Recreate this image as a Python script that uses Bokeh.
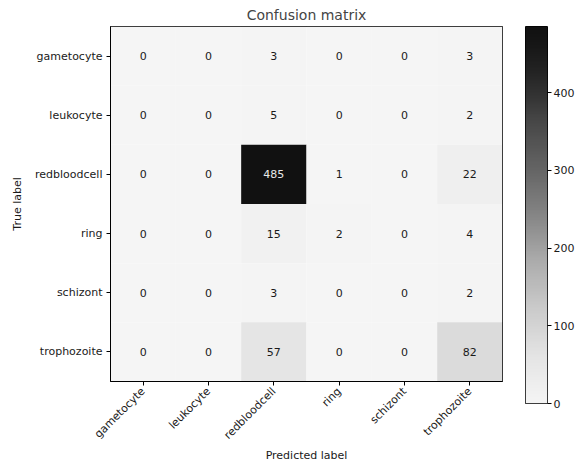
import numpy as np
from bokeh.plotting import figure
from bokeh.models import FactorRange, LinearColorMapper, ColumnDataSource, Range1d, FixedTicker
from bokeh.layouts import row
from bokeh.embed import file_html
from bokeh.resources import INLINE
from bokeh.core.properties import value

# ---- data ----
classes = ["gametocyte", "leukocyte", "redbloodcell", "ring", "schizont", "trophozoite"]
row_gametocyte = [0, 0, 3, 0, 0, 3]
row_leukocyte = [0, 0, 5, 0, 0, 2]
row_redbloodcell = [0, 0, 485, 1, 0, 22]
row_ring = [0, 0, 15, 2, 0, 4]
row_schizont = [0, 0, 3, 0, 0, 2]
row_trophozoite = [0, 0, 57, 0, 0, 82]
matrix = [row_gametocyte, row_leukocyte, row_redbloodcell, row_ring, row_schizont, row_trophozoite]
colorbar_ticks = [0, 100, 200, 300, 400]

FONT = "DejaVu Sans"
TXT = "#1a1a1a"

# ---- palette (Greys-like, slightly compressed tones) ----
anchor_pos = np.linspace(0, 1, 9)
anchor_g = [255, 240, 217, 189, 150, 115, 82, 37, 0]
palette = []
for t in np.linspace(0, 1, 256):
    g = float(np.interp(t, anchor_pos, anchor_g))
    o = int(round(17 + 228 * (g / 255.0) ** 1.27))
    palette.append("#%02x%02x%02x" % (o, o, o))

vmax = max(max(r) for r in matrix)
mapper = LinearColorMapper(palette=palette, low=0, high=vmax)

xs, ys, vals, labels, tcols = [], [], [], [], []
thresh = vmax / 2.0
for i, t in enumerate(classes):
    for j, pcls in enumerate(classes):
        v = matrix[i][j]
        xs.append(pcls)
        ys.append(t)
        vals.append(v)
        labels.append(str(v))
        tcols.append("#e8e8e8" if v > thresh else TXT)
src = ColumnDataSource(dict(x=xs, y=ys, val=vals, label=labels, tc=tcols))

p = figure(
    x_range=FactorRange(factors=classes),
    y_range=FactorRange(factors=list(reversed(classes))),
    frame_width=392, frame_height=355,
    min_border_left=110, min_border_right=10,
    min_border_top=26, min_border_bottom=70,
    toolbar_location=None, output_backend="svg",
    title="Confusion matrix",
)
p.align = "start"
p.rect(x="x", y="y", width=1, height=1, source=src,
       fill_color={"field": "val", "transform": mapper}, line_color=None)
p.text(x="x", y="y", text="label", source=src, text_align="center",
       text_baseline="middle", text_font_size="11px", text_color="tc",
       text_font=value(FONT))

p.title.align = "center"
p.title.text_font = FONT
p.title.text_font_size = "14px"
p.title.text_font_style = "normal"
p.title.standoff = 8
p.outline_line_color = "black"
p.outline_line_width = 1
p.grid.visible = False
for ax in (p.xaxis[0], p.yaxis[0]):
    ax.major_label_text_font = FONT
    ax.major_label_text_font_size = "11px"
    ax.axis_label_text_font = FONT
    ax.axis_label_text_font_size = "11px"
    ax.axis_label_text_font_style = "normal"
    ax.major_tick_out = 4
    ax.major_tick_in = 0
    ax.major_label_standoff = 4
    ax.axis_line_color = "black"
    ax.major_label_text_color = TXT
    ax.axis_label_text_color = TXT
p.xaxis.axis_label = "Predicted label"
p.xaxis.axis_label_standoff = 0
p.xaxis.major_label_orientation = np.pi / 4
p.yaxis.axis_label = "True label"
p.yaxis.axis_label_standoff = 8

# ---- colorbar figure ----
cb = figure(
    x_range=Range1d(0, 1), y_range=Range1d(0, vmax),
    frame_width=22, frame_height=377,
    min_border_left=13, min_border_right=34,
    min_border_top=15, min_border_bottom=50,
    toolbar_location=None, output_backend="svg",
    x_axis_location=None, y_axis_location="right",
)
cb.align = "start"
grad = np.linspace(0, vmax, 256).reshape(256, 1)
cb.image(image=[grad], x=0, y=0, dw=1, dh=vmax, color_mapper=mapper)
cb.grid.visible = False
cb.outline_line_color = "black"
cb.yaxis.ticker = FixedTicker(ticks=colorbar_ticks)
cb.yaxis.major_label_text_font = FONT
cb.yaxis.major_label_text_font_size = "11px"
cb.yaxis.major_tick_out = 4
cb.yaxis.major_tick_in = 0
cb.yaxis.minor_tick_out = 0
cb.yaxis.minor_tick_in = 0
cb.yaxis.major_label_standoff = 2
cb.yaxis.axis_line_color = None
cb.yaxis.major_label_text_color = TXT

layout = row(p, cb)
open("out.html", "w").write(file_html(layout, INLINE))
